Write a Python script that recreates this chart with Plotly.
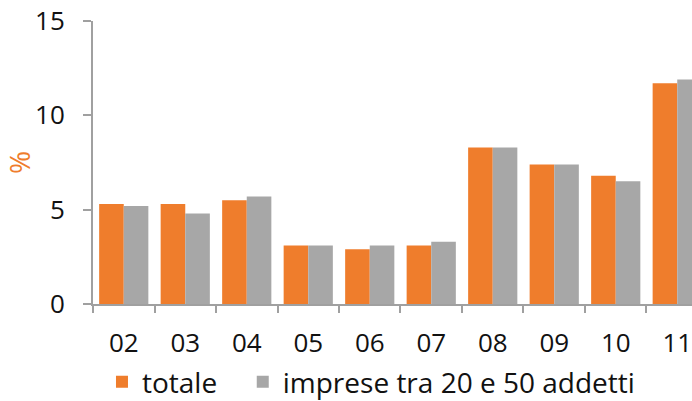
import plotly.graph_objects as go

categories = ["02", "03", "04", "05", "06", "07", "08", "09", "10", "11"]
totale = [5.3, 5.3, 5.5, 3.1, 2.9, 3.1, 8.3, 7.4, 6.8, 11.7]
imprese = [5.2, 4.8, 5.7, 3.1, 3.1, 3.3, 8.3, 7.4, 6.5, 11.9]
y_ticks = [0, 5, 10, 15]

ORANGE = "#EF7D2C"
GREY = "#A7A7A7"
AXIS = "#A0A0A0"
FONT = "Open Sans"

fig = go.Figure()
fig.add_trace(go.Bar(x=categories, y=totale, name="totale", legend="legend",
                     marker=dict(color=ORANGE, line=dict(width=0))))
fig.add_trace(go.Bar(x=categories, y=imprese, name="imprese tra 20 e 50 addetti", legend="legend2",
                     marker=dict(color=GREY, line=dict(width=0))))

leg_common = dict(orientation="h", xanchor="left", yanchor="middle",
                  yref="container", y=0.047,
                  font=dict(size=28), bgcolor="rgba(0,0,0,0)")
fig.update_layout(
    width=692, height=401,
    margin=dict(l=93, r=0, t=21, b=97),
    paper_bgcolor="white", plot_bgcolor="white",
    barmode="group", bargap=0.2, bargroupgap=0,
    font=dict(family=FONT, size=26, color="#111111"),
    showlegend=True,
    legend=dict(x=0.015, **leg_common),
    legend2=dict(x=0.25, **leg_common),
)
fig.update_xaxes(
    type="category", range=[-0.5, 9.24], showline=True, linecolor=AXIS, linewidth=2,
    ticks="outside", tickson="boundaries", ticklen=7, tickcolor=AXIS, tickwidth=2,
    showgrid=False, zeroline=False, tickfont=dict(size=26), ticklabelstandoff=15,
    ticklabeloverflow="allow", automargin=False,
)
fig.update_yaxes(
    range=[0, 15], tickvals=y_ticks, showline=True, linecolor=AXIS, linewidth=2,
    ticks="outside", ticklen=8, tickcolor=AXIS, tickwidth=2, showgrid=False, zeroline=False,
    tickfont=dict(size=26), ticklabelstandoff=13, ticklabeloverflow="allow", automargin=False,
    title=dict(text="%", font=dict(color=ORANGE, size=28), standoff=0),
)

fig.write_html("out.html", config={"displayModeBar": False},
               post_script="document.body.style.margin='0';")
